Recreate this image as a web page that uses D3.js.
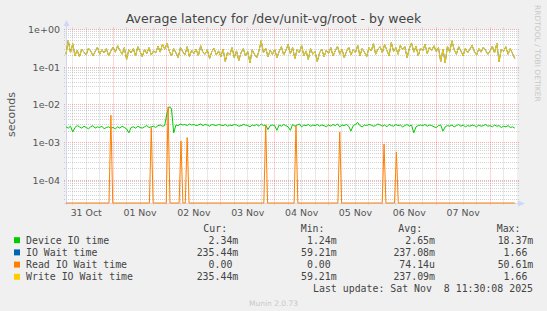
<!DOCTYPE html>
<html>
<head>
<meta charset="utf-8">
<script src="https://cdn.jsdelivr.net/npm/d3@7"></script>
<style>
  body { margin: 0; background: #f0f0f0; }
  svg { display: block; }
</style>
</head>
<body>
<div id="latency"></div>
<script>
// hourly samples, first one at 31 Oct 03:00 UTC
var firstSample = Date.UTC(2025, 9, 31, 3);

// Device IO time, in milliseconds (one value per hour)
var deviceIoMs = [
  2.6, 2.4, 2.7, 1.9, 2.5, 2.8, 2.6, 2.4, 2.7, 2.5, 2.3, 2.6, 2.8, 2.4, 2.6, 2.5, 2.7, 2.3, 2.5, 2.6, 2.4,
  2.5, 2.3, 2.6, 2.4, 2.7, 2.5, 2.3, 1.8, 2.5, 2.6, 2.4, 2.7, 2.5, 2.4, 2.6, 2.8, 2.5, 2.6, 2.7, 2.5, 2.8, 2.9, 2.7, 2.8,
  6.0, 8.8, 8.0, 1.8, 2.9, 2.8, 3.1, 2.9, 3.0, 2.8, 3.1, 2.9, 3.0, 2.8, 2.9, 3.1, 2.8, 3.0, 2.9, 2.7, 3.0, 2.9, 2.8, 3.0,
  2.9, 2.8, 3.0, 2.7, 2.9, 2.8, 3.0, 2.9, 2.7, 2.8, 3.0, 2.9, 2.8, 2.6, 2.9, 2.8, 3.0, 2.7, 3.1, 2.8, 2.9, 2.2, 2.8, 2.9,
  2.8, 2.1, 2.9, 2.7, 3.0, 2.8, 2.6, 2.1, 3.0, 2.7, 2.9, 3.1, 2.6, 2.9, 2.8, 3.0, 2.7, 2.9, 2.8, 3.0, 2.7, 2.9, 2.8, 2.6,
  2.9, 2.7, 3.0, 2.8, 3.1, 2.6, 2.9, 2.8, 3.0, 2.7, 2.0, 2.8, 3.0, 3.4, 2.8, 2.6, 2.9, 2.8, 3.0, 2.9, 2.7, 2.8, 3.1, 2.9,
  2.7, 2.9, 2.6, 3.0, 2.8, 2.7, 3.0, 2.8, 2.9, 2.6, 2.8, 3.0, 2.7, 2.9, 1.8, 2.6, 2.8, 2.9, 2.8, 3.0, 2.7, 2.9, 2.8, 2.6,
  2.5, 2.8, 2.9, 2.0, 2.6, 2.8, 2.7, 2.9, 2.6, 2.8, 3.0, 2.7, 2.9, 2.6, 2.8, 2.7, 2.9, 2.8, 2.6, 2.9, 2.7, 2.8, 3.0, 2.7,
  2.8, 2.6, 2.9, 2.7, 2.8, 2.5, 2.7, 2.6, 2.8, 2.5, 2.6, 2.4
];

// Write IO Wait time, in seconds (IO Wait time sits right under it)
var writeWait = [
  0.22, 0.52, 0.24, 0.42, 0.2, 0.28, 0.19, 0.3, 0.25, 0.21, 0.32, 0.27, 0.2, 0.26, 0.34, 0.22, 0.29, 0.24, 0.31, 0.2, 0.27,
  0.34, 0.25, 0.37, 0.28, 0.22, 0.33, 0.16, 0.29, 0.24, 0.31, 0.2, 0.35, 0.26, 0.19, 0.3, 0.23, 0.33, 0.21, 0.27, 0.24, 0.36, 0.25, 0.41, 0.3,
  0.43, 0.27, 0.2, 0.31, 0.24, 0.18, 0.33, 0.26, 0.21, 0.35, 0.19, 0.28, 0.23, 0.3, 0.2, 0.37, 0.25, 0.22, 0.29, 0.17, 0.26, 0.32, 0.21, 0.27,
  0.19, 0.3, 0.14, 0.25, 0.21, 0.33, 0.18, 0.27, 0.15, 0.24, 0.31, 0.2, 0.26, 0.13, 0.29, 0.22, 0.18, 0.27, 0.5, 0.24, 0.32, 0.19, 0.28, 0.22,
  0.3, 0.18, 0.26, 0.35, 0.21, 0.28, 0.4, 0.23, 0.33, 0.17, 0.29, 0.24, 0.38, 0.2, 0.27, 0.16, 0.31, 0.22, 0.26, 0.14, 0.24, 0.3, 0.19, 0.28,
  0.23, 0.33, 0.2, 0.27, 0.36, 0.22, 0.3, 0.18, 0.26, 0.34, 0.21, 0.29, 0.24, 0.38, 0.2, 0.31, 0.25, 0.19, 0.33, 0.27, 0.42, 0.22, 0.3, 0.35,
  0.24, 0.4, 0.28, 0.2, 0.45, 0.26, 0.33, 0.22, 0.38, 0.29, 0.35, 0.18, 0.31, 0.44, 0.25, 0.36, 0.2, 0.32, 0.27, 0.4, 0.23, 0.34, 0.28, 0.37,
  0.26, 0.33, 0.14, 0.3, 0.13, 0.36, 0.25, 0.5, 0.29, 0.22, 0.35, 0.27, 0.2, 0.32, 0.24, 0.3, 0.38, 0.26, 0.21, 0.31, 0.25, 0.34, 0.28, 0.22,
  0.27, 0.36, 0.24, 0.43, 0.14, 0.3, 0.26, 0.35, 0.22, 0.31, 0.23, 0.17
];

// Read IO Wait time is zero except for these short bursts (seconds)
var readSpikes = [
  ['2025-10-31T23:00', 5.3e-3],
  ['2025-11-01T17:00', 2.5e-3],
  ['2025-11-02T00:30', 8.7e-3],
  ['2025-11-02T06:15', 1.1e-3],
  ['2025-11-02T09:00', 1.35e-3],
  ['2025-11-03T20:00', 2.9e-3],
  ['2025-11-04T09:30', 2.8e-3],
  ['2025-11-05T05:00', 1.9e-3],
  ['2025-11-06T00:45', 9e-4],
  ['2025-11-06T06:15', 5.6e-4]
];

// axes
var yTicks = [1, 1e-1, 1e-2, 1e-3, 1e-4];
var yTickLabels = ['1e+00', '1e-01', '1e-02', '1e-03', '1e-04'];
var dayLabels = ['2025-10-31', '2025-11-01', '2025-11-02', '2025-11-03', '2025-11-04', '2025-11-05', '2025-11-06', '2025-11-07'];

// legend
var seriesNames = ['Device IO time', 'IO Wait time', 'Read IO Wait time', 'Write IO Wait time'];
var seriesColors = ['#00cc00', '#0066b3', '#ff8000', '#ffcc00'];
var curValues = ['2.34m', '235.44m', '0.00', '235.44m'];
var minValues = ['1.24m', '59.21m', '0.00', '59.21m'];
var avgValues = ['2.65m', '237.08m', '74.14u', '237.09m'];
var maxValues = ['18.37m', '1.66', '50.61m', '1.66'];

(function () {

  var width = 547, height = 311;
  var plot = {left: 66, right: 517, top: 29.5, bottom: 203};
  var yMin = 2.466e-5;
  var sans = '"DejaVu Sans", sans-serif';
  var mono = '"DejaVu Sans Mono", monospace';

  var parseTime = d3.utcParse('%Y-%m-%dT%H:%M');
  var parseDay = d3.utcParse('%Y-%m-%d');

  // build time series from the hourly arrays
  function hourly(values, scale) {
    return values.map(function (v, i) {
      return {t: new Date(firstSample + i * 3600e3), v: v * scale};
    });
  }
  var deviceData = hourly(deviceIoMs, 1e-3);
  var writeData = hourly(writeWait, 1);
  var lastSample = writeData[writeData.length - 1].t;

  var readData = [{t: new Date(firstSample), v: 0}];
  readSpikes.forEach(function (s) {
    var t = parseTime(s[0]);
    readData.push({t: new Date(+t - 50 * 60e3), v: 0});
    readData.push({t: t, v: s[1]});
    readData.push({t: new Date(+t + 50 * 60e3), v: 0});
  });
  readData.push({t: lastSample, v: 0});

  var x = d3.scaleUtc()
      .domain([new Date(firstSample), new Date(Date.UTC(2025, 10, 8, 12))])
      .range([plot.left, plot.right]);

  var y = d3.scaleLog()
      .domain([yMin, 1])
      .range([plot.bottom, plot.top])
      .clamp(true);

  function yv(v) { return v > yMin ? y(v) : plot.bottom; }
  function crisp(p) { return Math.floor(p) + 0.5; }

  var svg = d3.select('#latency')
      .append('svg')
      .attr('width', width)
      .attr('height', height);

  svg.append('rect')
      .attr('width', width)
      .attr('height', height)
      .attr('fill', '#f0f0f0');

  // white canvas
  svg.append('rect')
      .attr('x', plot.left)
      .attr('y', plot.top)
      .attr('width', plot.right - plot.left)
      .attr('height', plot.bottom - plot.top)
      .attr('fill', '#ffffff');

  var grid = svg.append('g')
      .attr('fill', 'none')
      .attr('stroke-width', 1)
      .attr('stroke-dasharray', '1,1');

  // horizontal minor grid (2..9 of every decade)
  var minor = [];
  for (var e = -5; e < 0; e++) {
    for (var m = 2; m < 10; m++) {
      var v = m * Math.pow(10, e);
      if (v > yMin && v < 1) minor.push(v);
    }
  }
  grid.selectAll('.hminor')
      .data(minor)
      .enter().append('line')
      .attr('x1', plot.left - 2)
      .attr('x2', plot.right + 2)
      .attr('y1', function (d) { return crisp(y(d)); })
      .attr('y2', function (d) { return crisp(y(d)); })
      .attr('stroke', 'rgba(128,128,128,0.35)');

  // vertical grid every 6 hours, red at midnight
  var sixHours = d3.utcHour.every(6).range(new Date(firstSample), x.domain()[1]);
  grid.selectAll('.vgrid')
      .data(sixHours)
      .enter().append('line')
      .attr('x1', function (d) { return crisp(x(d)); })
      .attr('x2', function (d) { return crisp(x(d)); })
      .attr('y1', plot.top - 2)
      .attr('y2', plot.bottom + 2)
      .attr('stroke', function (d) {
        return d.getUTCHours() === 0 ? 'rgba(255,0,0,0.33)' : 'rgba(128,128,128,0.35)';
      });

  // decade lines
  grid.selectAll('.hmajor')
      .data(yTicks)
      .enter().append('line')
      .attr('x1', plot.left - 2)
      .attr('x2', plot.right + 2)
      .attr('y1', function (d) { return crisp(y(d)); })
      .attr('y2', function (d) { return crisp(y(d)); })
      .attr('stroke', 'rgba(255,0,0,0.33)');

  // y tick labels
  svg.selectAll('.ylabel')
      .data(yTicks)
      .enter().append('text')
      .attr('x', 60)
      .attr('y', function (d) { return y(d); })
      .attr('dy', '0.36em')
      .attr('text-anchor', 'end')
      .style('font-family', sans)
      .style('font-size', '9.5px')
      .attr('fill', '#555')
      .text(function (d, i) { return yTickLabels[i]; });

  // day labels at noon
  svg.selectAll('.xlabel')
      .data(dayLabels)
      .enter().append('text')
      .attr('x', function (d) { return x(d3.utcHour.offset(parseDay(d), 12)); })
      .attr('y', 215.5)
      .attr('text-anchor', 'middle')
      .style('font-family', sans)
      .style('font-size', '9.4px')
      .attr('fill', '#555')
      .text(function (d) { return d3.utcFormat('%d %b')(parseDay(d)); });

  // axes and arrows
  var axisColor = '#cfd6f8';
  svg.append('line')
      .attr('x1', plot.left + 0.5).attr('x2', plot.left + 0.5)
      .attr('y1', plot.bottom + 2).attr('y2', 24)
      .attr('stroke', axisColor);
  svg.append('path')
      .attr('d', 'M' + (plot.left - 2.5) + ',26L' + (plot.left + 0.5) + ',20L' + (plot.left + 3.5) + ',26Z')
      .attr('fill', axisColor);
  svg.append('line')
      .attr('x1', plot.left - 2).attr('x2', plot.right + 3)
      .attr('y1', plot.bottom + 0.5).attr('y2', plot.bottom + 0.5)
      .attr('stroke', axisColor);
  svg.append('path')
      .attr('d', 'M' + (plot.right + 1) + ',' + (plot.bottom - 2.5) + 'L' + (plot.right + 8) + ',' + (plot.bottom + 0.5) +
                 'L' + (plot.right + 1) + ',' + (plot.bottom + 3.5) + 'Z')
      .attr('fill', axisColor);

  // series lines
  var line = d3.line()
      .x(function (d) { return x(d.t); })
      .y(function (d) { return yv(d.v); });

  var series = [deviceData, writeData, readData, writeData];
  series.forEach(function (data, i) {
    svg.append('path')
        .datum(data)
        .attr('fill', 'none')
        .attr('stroke', seriesColors[i])
        .attr('stroke-width', 1)
        .attr('d', line);
  });

  // title
  svg.append('text')
      .attr('x', width / 2)
      .attr('y', 23)
      .attr('text-anchor', 'middle')
      .style('font-family', sans)
      .style('font-size', '12.5px')
      .attr('fill', '#444')
      .text('Average latency for /dev/unit-vg/root - by week');

  // y axis label
  svg.append('text')
      .attr('transform', 'translate(15,114.5) rotate(-90)')
      .attr('text-anchor', 'middle')
      .style('font-family', sans)
      .style('font-size', '11px')
      .attr('fill', '#555')
      .text('seconds');

  // watermark on the right
  svg.append('text')
      .attr('transform', 'translate(535,5) rotate(90)')
      .style('font-family', sans)
      .style('font-size', '7.5px')
      .attr('fill', '#c8c8c8')
      .text('RRDTOOL / TOBI OETIKER');

  // legend
  var charW = 9.9 * 0.602;
  var legend = svg.append('g')
      .style('font-family', mono)
      .style('font-size', '9.9px')
      .attr('fill', '#444');

  var headers = ['Cur:', 'Min:', 'Avg:', 'Max:'];
  var headerX = [203.3, 300.7, 398.3, 496.7];
  headers.forEach(function (h, i) {
    legend.append('text').attr('x', headerX[i]).attr('y', 231.7).text(h);
  });

  var columns = [curValues, minValues, avgValues, maxValues];
  var columnRight = [238.3, 336.7, 435, 533.3];

  seriesNames.forEach(function (name, r) {
    var base = 243.5 + r * 12.2;
    legend.append('rect')
        .attr('x', 14)
        .attr('y', base - 6.3)
        .attr('width', 6)
        .attr('height', 6)
        .attr('fill', seriesColors[r]);
    legend.append('text')
        .attr('x', 26)
        .attr('y', base)
        .text(name);
    columns.forEach(function (col, c) {
      var s = col[r];
      var hasUnit = /[a-z]$/.test(s);
      legend.append('text')
          .attr('x', columnRight[c] - (hasUnit ? 0 : charW))
          .attr('y', base)
          .attr('text-anchor', 'end')
          .text(s);
    });
  });

  legend.append('text')
      .attr('x', 533)
      .attr('y', 292.4)
      .attr('text-anchor', 'end')
      .style('white-space', 'pre')
      .text('Last update: Sat Nov  8 11:30:08 2025');

  svg.append('text')
      .attr('x', width / 2)
      .attr('y', 305.5)
      .attr('text-anchor', 'middle')
      .style('font-family', sans)
      .style('font-size', '7.5px')
      .attr('fill', '#c8c8c8')
      .text('Munin 2.0.73');
})();
</script>
</body>
</html>
